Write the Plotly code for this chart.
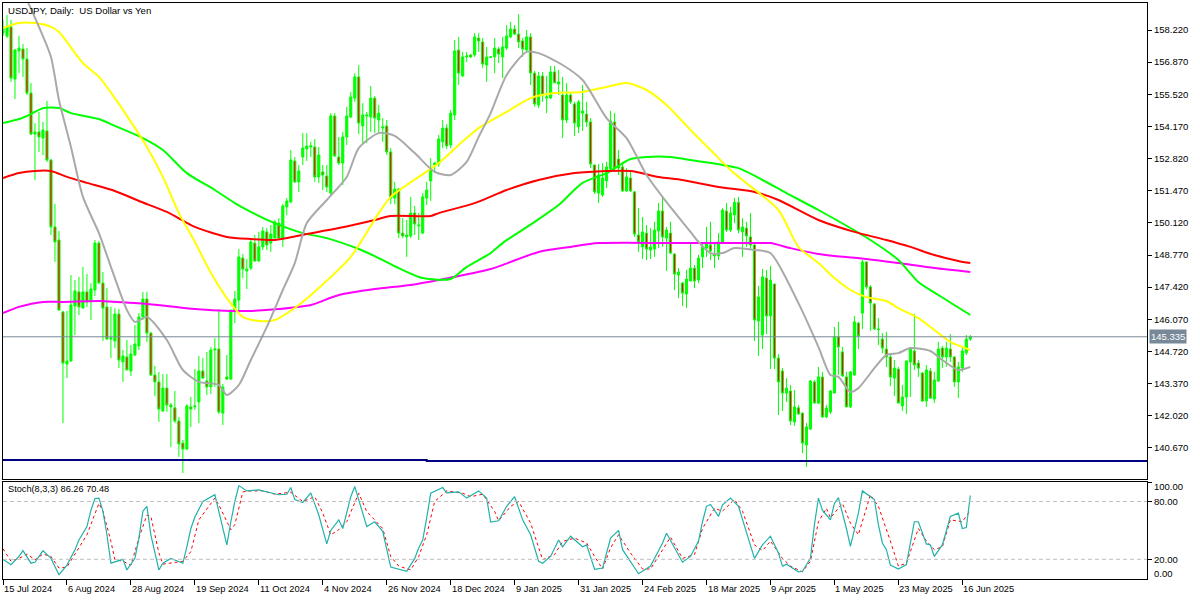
import plotly.graph_objects as go
from plotly.subplots import make_subplots

tick_dates = ["15 Jul 2024", "6 Aug 2024", "28 Aug 2024", "19 Sep 2024", "11 Oct 2024", "4 Nov 2024",
              "26 Nov 2024", "18 Dec 2024", "9 Jan 2025", "31 Jan 2025", "24 Feb 2025", "18 Mar 2025",
              "9 Apr 2025", "1 May 2025", "23 May 2025", "16 Jun 2025"]
tick_bars = [0, 16, 32, 48, 64, 80, 96, 112, 128, 144, 160, 176, 192, 208, 224, 240]

opens = [158.09, 157.97, 158.35, 156.16, 157.34, 157.42, 157.0, 155.57, 153.85, 153.94, 153.68, 153.98, 152.76, 149.95, 149.40, 146.38,
         144.19, 144.32, 146.63, 147.22, 146.54, 147.22, 146.84, 147.30, 149.27, 147.59, 146.59, 145.24, 145.16, 146.29, 144.28, 144.49,
         143.90, 144.57, 144.95, 146.17, 146.92, 145.49, 143.73, 143.44, 142.22, 143.18, 142.47, 142.35, 141.80, 140.87, 140.62, 142.39,
         142.39, 142.60, 143.90, 143.48, 143.23, 144.78, 144.82, 142.13, 143.65, 143.56, 146.42, 146.88, 148.64, 148.10, 148.22, 149.27,
         148.52, 149.11, 149.74, 149.27, 149.48, 150.11, 149.48, 150.79, 151.0, 152.72, 151.84, 152.89, 153.22, 153.31, 153.31, 152.05,
         152.26, 152.09, 151.37, 154.61, 152.89, 152.63, 153.73, 154.57, 155.36, 156.25, 154.19, 154.61, 154.57, 155.36, 154.44, 154.10,
         154.19, 153.10, 151.16, 151.54, 149.69, 149.53, 149.57, 150.53, 149.99, 149.69, 151.16, 151.88, 152.55, 152.59, 153.52, 154.10,
         153.39, 154.65, 157.38, 156.29, 157.09, 157.17, 157.17, 157.88, 157.72, 156.75, 157.07, 157.09, 157.42, 157.09, 157.46, 157.93,
         158.26, 158.05, 157.76, 157.38, 157.93, 156.41, 155.07, 156.29, 155.36, 155.36, 156.46, 155.95, 155.49, 154.44, 155.49, 155.11,
         154.15, 154.73, 154.69, 154.36, 152.55, 151.37, 151.29, 151.88, 152.38, 154.36, 152.80, 152.47, 151.46, 152.0, 151.42, 149.61,
         149.11, 149.69, 148.98, 149.02, 149.78, 150.62, 149.48, 149.69, 148.81, 147.93, 147.59, 147.13, 147.68, 148.22, 147.72, 148.69,
         149.06, 149.19, 148.73, 148.73, 149.32, 150.62, 149.82, 150.45, 150.98, 149.74, 149.90, 149.53, 149.19, 146.0, 145.41, 147.80,
         146.21, 147.55, 144.44, 143.90, 142.97, 143.06, 141.76, 142.35, 142.13, 140.79, 141.46, 143.44, 142.55, 143.65, 141.97, 142.18,
         142.97, 145.33, 144.70, 143.65, 142.39, 143.73, 145.91, 146.33, 148.48, 147.43, 146.71, 145.66, 145.24, 144.82, 144.49, 143.60,
         143.98, 142.43, 142.81, 144.28, 144.74, 144.23, 143.81, 142.64, 143.90, 142.72, 143.48, 144.86, 144.49, 144.82, 144.49, 143.44,
         144.02, 144.66, 145.24]
highs = [158.64, 158.85, 158.64, 157.42, 157.97, 157.63, 157.46, 155.99, 154.31, 154.78, 154.36, 155.24, 152.80, 150.91, 149.78, 146.42,
         146.42, 147.93, 147.72, 147.85, 148.27, 147.97, 147.59, 149.40, 149.36, 148.06, 147.38, 146.59, 146.54, 146.50, 144.78, 145.20,
         144.99, 145.83, 146.33, 147.22, 147.22, 145.54, 144.11, 143.86, 143.77, 143.77, 142.55, 143.06, 141.97, 141.0, 142.51, 142.81,
         143.98, 144.53, 144.44, 144.70, 144.91, 145.28, 146.50, 143.35, 144.57, 146.50, 147.26, 149.02, 148.81, 148.60, 149.40, 149.61,
         149.74, 149.95, 149.90, 150.03, 150.24, 150.32, 150.91, 151.16, 153.18, 152.89, 152.55, 153.89, 153.89, 153.52, 153.64, 153.31,
         152.55, 152.55, 154.73, 154.73, 153.73, 153.94, 154.99, 155.62, 156.41, 156.75, 155.15, 154.78, 155.87, 155.45, 155.07, 154.52,
         154.44, 153.26, 151.84, 151.58, 150.32, 150.24, 151.21, 150.83, 150.53, 151.37, 151.84, 152.84, 152.68, 153.81, 154.44, 154.27,
         154.86, 157.80, 157.93, 157.30, 157.30, 157.21, 158.09, 158.09, 157.88, 157.51, 157.11, 157.88, 157.51, 157.93, 158.43, 158.56,
         158.43, 158.89, 157.88, 158.22, 158.09, 156.50, 156.46, 156.46, 156.29, 156.71, 156.71, 156.54, 156.25, 155.99, 155.62, 155.20,
         155.28, 155.91, 155.20, 154.52, 152.57, 152.59, 152.63, 152.68, 154.82, 154.73, 153.18, 152.68, 152.42, 152.26, 151.46, 150.74,
         150.37, 150.03, 149.90, 150.16, 150.95, 151.21, 149.95, 150.16, 148.85, 148.22, 147.64, 148.14, 149.27, 148.35, 148.77, 149.27,
         149.95, 150.16, 149.27, 149.69, 150.74, 150.95, 150.79, 151.16, 151.21, 150.32, 150.16, 150.53, 149.27, 147.47, 148.18, 148.14,
         148.31, 147.57, 144.61, 144.02, 143.60, 143.31, 143.10, 142.47, 142.15, 141.71, 143.52, 143.52, 144.07, 143.86, 142.47, 143.10,
         145.75, 145.96, 144.91, 143.86, 143.90, 146.21, 145.96, 148.56, 148.50, 147.51, 146.75, 146.12, 145.49, 145.54, 144.57, 144.36,
         144.07, 143.31, 144.34, 144.91, 146.29, 144.36, 143.86, 144.15, 144.02, 143.86, 145.12, 144.95, 145.12, 145.45, 144.51, 144.28,
         144.91, 145.41, 145.41]
lows = [157.97, 157.88, 156.04, 155.32, 156.41, 156.25, 155.49, 153.81, 151.92, 153.10, 152.97, 152.68, 149.61, 148.48, 146.42, 141.71,
        143.60, 144.28, 145.41, 146.25, 146.54, 146.59, 146.04, 147.05, 147.59, 145.16, 145.20, 144.44, 144.86, 144.02, 143.44, 143.94,
        143.69, 144.53, 144.78, 146.04, 145.12, 143.69, 142.85, 141.76, 142.18, 142.18, 140.71, 141.71, 140.29, 139.61, 140.58, 141.55,
        142.26, 141.71, 143.56, 142.89, 142.93, 143.23, 142.09, 141.63, 143.52, 143.52, 145.91, 146.46, 147.80, 147.34, 148.14, 148.48,
        148.48, 148.98, 148.98, 148.90, 149.48, 149.40, 149.11, 150.45, 150.95, 151.79, 151.42, 152.55, 152.72, 152.89, 151.84, 151.79,
        151.50, 151.42, 151.25, 152.89, 152.55, 151.71, 153.39, 154.52, 155.20, 153.85, 153.43, 153.47, 153.94, 153.89, 153.89, 153.52,
        152.97, 150.91, 150.91, 149.48, 149.48, 148.69, 149.48, 149.61, 149.40, 149.65, 150.87, 151.04, 152.21, 152.47, 153.26, 153.22,
        153.26, 154.44, 155.91, 156.25, 156.88, 157.04, 157.09, 157.30, 156.62, 156.04, 157.05, 156.41, 156.83, 156.20, 157.38, 157.88,
        158.01, 157.46, 157.09, 157.30, 155.91, 154.99, 154.94, 155.20, 154.73, 155.32, 156.0, 155.49, 153.68, 154.31, 155.11, 153.77,
        153.89, 153.98, 154.15, 152.42, 151.33, 150.95, 151.21, 151.58, 152.34, 152.34, 152.13, 151.42, 151.42, 151.42, 149.53, 148.90,
        148.60, 148.56, 148.60, 148.69, 149.06, 149.11, 148.10, 148.81, 147.30, 146.96, 146.63, 146.54, 147.68, 147.38, 147.59, 148.22,
        148.69, 148.56, 148.22, 148.56, 149.27, 149.74, 149.74, 150.11, 149.69, 148.69, 149.11, 148.98, 145.16, 144.53, 144.82, 145.45,
        143.98, 143.98, 142.05, 142.22, 142.60, 141.63, 141.59, 142.05, 140.45, 139.87, 141.42, 142.55, 142.51, 141.92, 141.92, 142.09,
        142.97, 143.73, 143.65, 142.39, 142.35, 143.69, 144.82, 145.66, 147.34, 145.58, 145.62, 144.99, 144.65, 144.07, 143.27, 142.85,
        142.55, 142.22, 142.09, 142.81, 143.94, 143.65, 142.60, 142.39, 142.72, 142.55, 143.44, 144.02, 144.07, 144.28, 143.23, 142.76,
        143.86, 144.57, 145.16]
closes = [158.35, 158.35, 156.20, 157.38, 157.46, 157.0, 155.57, 153.85, 153.94, 153.73, 154.02, 152.76, 149.95, 149.32, 146.46, 144.23,
          144.32, 146.67, 147.26, 146.59, 147.22, 146.80, 147.34, 149.27, 147.59, 146.54, 145.24, 145.28, 146.29, 144.36, 144.53, 143.94,
          144.61, 145.03, 146.17, 146.92, 145.49, 143.73, 143.44, 142.30, 143.18, 142.47, 142.39, 141.80, 140.83, 140.62, 142.43, 142.30,
          142.43, 143.90, 143.60, 143.23, 144.78, 144.82, 142.18, 143.23, 143.56, 146.42, 146.92, 148.69, 148.18, 148.18, 149.32, 148.52,
          149.11, 149.78, 149.19, 149.65, 150.16, 149.48, 150.83, 151.04, 152.76, 151.84, 152.30, 153.26, 153.35, 153.35, 152.05, 152.97,
          152.13, 151.63, 154.61, 152.93, 152.63, 153.73, 154.61, 155.41, 156.25, 154.31, 154.65, 154.65, 155.36, 154.52, 154.73, 154.15,
          153.10, 151.16, 151.54, 149.69, 149.57, 149.61, 150.53, 150.07, 150.03, 151.21, 151.50, 152.34, 152.63, 153.64, 154.10, 153.35,
          154.73, 157.34, 156.41, 157.09, 157.13, 157.09, 157.93, 157.76, 156.79, 157.09, 157.09, 157.46, 157.21, 157.51, 157.97, 158.26,
          158.05, 157.72, 157.42, 157.93, 156.41, 155.11, 156.29, 155.49, 155.41, 156.46, 156.0, 156.04, 154.44, 155.49, 155.20, 154.31,
          155.20, 154.82, 154.36, 152.59, 151.42, 152.13, 152.0, 152.47, 154.40, 152.42, 152.42, 151.46, 152.05, 151.46, 149.65, 149.32,
          149.74, 149.02, 149.11, 149.82, 150.62, 149.53, 149.82, 148.85, 147.97, 148.06, 147.17, 147.76, 148.22, 147.68, 148.64, 149.11,
          149.27, 148.94, 148.81, 149.32, 150.66, 149.82, 150.53, 150.98, 149.82, 149.95, 149.57, 149.19, 146.04, 147.01, 147.85, 146.21,
          147.72, 144.44, 143.44, 142.97, 143.18, 141.80, 142.39, 142.09, 140.87, 141.55, 143.48, 142.55, 143.65, 141.97, 142.34, 143.06,
          145.33, 144.91, 143.69, 142.39, 143.86, 145.96, 145.37, 148.48, 147.43, 146.75, 145.66, 145.64, 144.86, 144.49, 143.65, 144.02,
          142.55, 142.81, 144.32, 144.86, 144.15, 144.02, 142.64, 143.94, 142.76, 143.52, 144.82, 144.49, 144.86, 144.49, 143.44, 144.07,
          144.74, 145.24, 145.335]

yellow_bars = [0, 4, 8, 12, 14, 16, 20, 24, 28, 32, 36, 40, 44, 48, 52, 56, 60, 64, 68, 74, 79, 87, 94, 97, 101, 109, 114, 119, 126,
               132, 138, 145, 151, 156, 161, 166, 172, 177, 182, 185, 194, 199, 204, 208, 212, 216, 221, 224, 229, 233, 237, 242]
yellow_ma = [158.30, 158.51, 158.51, 158.35, 158.14, 157.72, 156.83, 156.25, 155.36, 154.36, 153.31, 152.05, 150.53, 149.32, 148.02,
             146.96, 146.17, 146.0, 146.04, 146.67, 147.38, 148.69, 150.53, 151.21, 151.71, 152.63, 153.39, 154.10, 154.78, 155.36,
             155.57, 155.62, 155.83, 155.99, 155.70, 155.07, 154.02, 153.18, 152.34, 151.92, 150.66, 149.11, 148.43, 147.80, 147.30,
             147.0, 146.84, 146.54, 146.12, 145.62, 145.12, 144.78]

green_bars = [0, 4, 7, 10, 14, 17, 24, 28, 35, 40, 46, 53, 58, 62, 68, 75, 81, 89, 94, 99, 105, 112, 116, 122, 125, 133, 139, 145, 151,
              157, 161, 167, 172, 184, 190, 196, 204, 217, 224, 229, 234, 242]
green_ma = [154.31, 154.48, 154.69, 154.94, 154.94, 154.73, 154.48, 154.19, 153.68, 153.18, 152.21, 151.50, 150.95, 150.58, 150.11,
            149.69, 149.48, 149.02, 148.64, 148.22, 147.80, 147.76, 148.27, 148.85, 149.27, 150.16, 150.87, 151.80, 152.21, 152.80,
            152.89, 152.89, 152.76, 152.42, 151.92, 151.37, 150.66, 149.40, 148.56, 147.64, 147.09, 146.25]

red_bars = [0, 4, 8, 12, 16, 21, 28, 34, 41, 48, 56, 62, 68, 76, 84, 93, 97, 107, 109, 118, 126, 134, 143, 151, 157, 164, 170, 179, 188,
            194, 204, 213, 221, 227, 233, 239, 242]
red_ma = [152.0, 152.21, 152.30, 152.30, 152.05, 151.80, 151.46, 151.04, 150.58, 149.95, 149.53, 149.44, 149.40, 149.65, 149.90, 150.24,
          150.41, 150.41, 150.53, 150.95, 151.50, 151.92, 152.21, 152.30, 152.30, 152.05, 151.92, 151.63, 151.42, 151.08, 150.24, 149.74,
          149.40, 149.11, 148.77, 148.52, 148.43]

magenta_bars = [0, 4, 10, 15, 24, 33, 41, 48, 57, 62, 69, 77, 84, 93, 102, 109, 122, 134, 142, 149, 171, 182, 188, 192, 197, 204, 208,
                216, 224, 233, 242]
magenta_ma = [146.33, 146.59, 146.80, 146.80, 146.84, 146.75, 146.63, 146.50, 146.42, 146.42, 146.50, 146.67, 147.09, 147.34, 147.51,
              147.72, 148.18, 148.90, 149.11, 149.27, 149.27, 149.27, 149.27, 149.27, 149.06, 148.81, 148.73, 148.60, 148.43, 148.22, 148.06]

gray_bars = [6, 9, 12, 14, 17, 20, 24, 27, 31, 33, 36, 41, 45, 49, 54, 56, 59, 62, 66, 70, 73, 76, 81, 86, 89, 94, 98, 103, 108, 112, 116,
             119, 122, 126, 131, 134, 140, 145, 151, 156, 161, 166, 172, 174, 177, 180, 183, 188, 192, 199, 204, 207, 209, 212, 214, 218,
             221, 224, 227, 232, 235, 239, 242]
gray_ma = [159.48, 158.35, 157.09, 155.28, 153.31, 151.21, 149.69, 148.27, 146.46, 145.96, 146.17, 145.20, 143.94, 143.44, 143.31, 142.89,
           143.31, 144.36, 145.75, 147.30, 148.43, 150.11, 151.08, 152.05, 153.26, 153.89, 153.77, 153.05, 152.26, 152.13, 152.68, 153.73,
           154.73, 156.33, 157.30, 157.25, 156.75, 156.12, 154.52, 153.68, 152.13, 150.99, 149.74, 149.32, 148.85, 148.85, 149.06, 148.98,
           148.85, 146.75, 144.91, 143.73, 143.65, 143.02, 143.18, 144.02, 144.57, 144.65, 144.86, 144.74, 144.36, 143.94, 144.07]

trend_bars = [0, 106, 106, 287]
trend_line = [140.16, 140.16, 140.12, 140.12]

stoch_bars = [0, 2, 4, 5, 7, 8, 10, 12, 14, 16, 18, 19, 21, 22, 23, 24, 25, 26, 27, 30, 31, 33, 34, 35, 36, 37, 39, 40, 42, 45, 46, 47, 48,
              49, 50, 53, 56, 57, 58, 59, 61, 64, 69, 71, 72, 73, 75, 77, 79, 81, 82, 84, 85, 87, 88, 91, 93, 95, 97, 101, 103, 104, 105,
              106, 107, 110, 111, 114, 116, 119, 121, 122, 124, 126, 128, 130, 132, 134, 135, 137, 139, 140, 142, 145, 146, 148, 150, 152,
              154, 155, 159, 162, 163, 165, 166, 170, 172, 174, 175, 176, 177, 179, 180, 182, 184, 186, 187, 188, 190, 192, 194, 195, 196,
              199, 200, 202, 203, 204, 205, 207, 208, 209, 211, 212, 214, 215, 218, 219, 220, 221, 222, 224, 226, 227, 228, 229, 231, 232,
              233, 235, 237, 239, 240, 241, 242]
stoch_main = [20, 14.5, 23, 29, 16, 17, 29, 21, 4, 14, 30, 40, 54, 71, 83, 83.5, 70, 45.5, 16, 20, 9, 21, 42, 70, 75, 45, 9, 16, 21, 16, 33,
              52, 64, 72, 80, 87, 35, 59, 80, 96.5, 91, 92, 87, 87.5, 94.5, 82, 79, 89, 66, 36, 50, 61, 52, 85, 95.5, 54, 59, 49, 12, 7.6, 21,
              31.7, 40, 63, 88.6, 94.5, 89, 90, 83.5, 91, 83.5, 58.6, 60, 75, 85, 61, 45.5, 18, 16, 23, 40, 33, 44, 33, 35, 9.7, 11, 42, 50,
              30, 5, 13, 21, 37, 47, 17, 23, 39, 59, 75, 77, 64.5, 76.5, 83.5, 75, 47, 33, 21, 35, 44, 26.5, 13, 15, 7, 7.6, 21, 56, 83.5, 71,
              61, 78, 84, 52, 33.5, 68, 91, 82, 56, 37, 30, 14, 10, 14.5, 39, 59, 59, 36, 35, 23, 35, 64.5, 68, 52, 53, 86.26]

signal_bars = [0, 2, 4, 6, 8, 10, 12, 14, 16, 19, 21, 24, 25, 27, 28, 30, 32, 34, 36, 37, 39, 40, 42, 45, 47, 49, 53, 54, 57, 58, 60, 62,
               65, 68, 72, 75, 78, 80, 82, 84, 86, 89, 91, 95, 97, 99, 102, 104, 106, 108, 111, 115, 117, 120, 123, 124, 127, 129, 132, 135,
               138, 140, 143, 146, 148, 150, 152, 154, 157, 160, 162, 165, 167, 170, 173, 175, 178, 180, 183, 185, 188, 190, 192, 195, 197,
               200, 202, 204, 206, 207, 210, 212, 214, 217, 219, 222, 224, 226, 229, 231, 233, 235, 237, 240, 242]
stoch_signal = [31, 18, 21, 25.5, 19.5, 25.5, 23, 11, 12, 33, 45.5, 78, 70, 38.6, 19.6, 18, 14, 42, 66, 64.5, 26.5, 15, 16, 18, 28, 61, 83.5,
                76.5, 50.7, 56, 90, 91, 91, 87.6, 89.6, 80, 85, 68, 45.5, 50.7, 59, 88.6, 69.6, 52, 23, 13, 9, 23, 45.5, 80, 91, 88.6, 85,
                87.6, 69.6, 60, 75, 80, 57.6, 19.6, 25, 38.6, 42, 37, 23, 10, 32, 45.5, 26.5, 10, 10, 30, 43, 21, 25, 52, 73, 70, 82, 70, 35,
                29, 39, 21, 13, 7, 18, 59, 73, 63, 78, 57.6, 45.5, 87, 75, 39, 13, 16, 52, 39, 30, 33, 61, 59, 70.48]

price_ticks = [158.22, 156.87, 155.52, 154.17, 152.82, 151.47, 150.12, 148.77, 147.42, 146.07, 144.72, 143.37, 142.02, 140.67]
stoch_ticks = [100, 80, 20]
stoch_labels = [100, 80, 20, 0]
last_price = 145.335

# stop here if a typed list came out the wrong length
for a, b in [(opens, highs), (opens, lows), (opens, closes), (yellow_bars, yellow_ma), (green_bars, green_ma), (red_bars, red_ma),
             (magenta_bars, magenta_ma), (gray_bars, gray_ma), (stoch_bars, stoch_main), (signal_bars, stoch_signal)]:
    assert len(a) == len(b), (len(a), len(b), a[:3])

bars = list(range(len(opens)))

fig = make_subplots(rows=2, cols=1, shared_xaxes=True, vertical_spacing=0.005, row_heights=[0.83, 0.17])

fig.add_trace(
    go.Candlestick(
        x=bars, open=opens, high=highs, low=lows, close=closes,
        increasing=dict(line=dict(color="#00ff00", width=1), fillcolor="#00ff00"),
        decreasing=dict(line=dict(color="#00ff00", width=1), fillcolor="#ff0000"),
        whiskerwidth=0,
    ),
    row=1, col=1,
)

for x_vals, y_vals, color in [
    (magenta_bars, magenta_ma, "#ff00ff"),
    (green_bars, green_ma, "#00ff00"),
    (red_bars, red_ma, "#ff0000"),
    (yellow_bars, yellow_ma, "#ffff00"),
    (gray_bars, gray_ma, "#a9a9a9"),
]:
    fig.add_trace(go.Scatter(x=x_vals, y=y_vals, mode="lines",
                             line=dict(color=color, width=2, shape="spline", smoothing=0.7)), row=1, col=1)
fig.add_trace(go.Scatter(x=trend_bars, y=trend_line, mode="lines", line=dict(color="#000080", width=2)), row=1, col=1)

fig.add_trace(go.Scatter(x=signal_bars, y=stoch_signal, mode="lines",
                         line=dict(color="#ff0000", width=1, dash="3px,3px")), row=2, col=1)
fig.add_trace(go.Scatter(x=stoch_bars, y=stoch_main, mode="lines",
                         line=dict(color="#20b2aa", width=1.2)), row=2, col=1)

fig.add_hline(y=last_price, line=dict(color="#778899", width=1), row=1, col=1)
for level in [80, 20]:
    fig.add_hline(y=level, line=dict(color="#c0c0c0", width=1, dash="4px,3px"), row=2, col=1)

fig.update_layout(
    width=1200, height=600,
    margin=dict(l=3, r=53, t=3, b=21),
    paper_bgcolor="white", plot_bgcolor="white",
    showlegend=False,
    font=dict(family="Liberation Sans", size=9.5, color="black"),
    boxgap=0.25,
)

frame = dict(showline=True, linecolor="black", linewidth=1, mirror=True, showgrid=False, zeroline=False)

fig.update_xaxes(range=[0, 286.2], rangeslider_visible=False, tickmode="array", tickvals=tick_bars,
                 ticks="outside", ticklen=5, tickcolor="black", showticklabels=False, **frame)
fig.update_yaxes(side="right", ticks="outside", ticklen=4, tickcolor="black", **frame)
fig.update_yaxes(domain=[0.1736, 1], range=[139.362, 159.354], tickmode="array", tickvals=price_ticks,
                 tickformat=".3f", row=1, col=1)
fig.update_yaxes(domain=[0, 0.169], range=[-0.4, 100.6], tickmode="array", tickvals=stoch_ticks,
                 showticklabels=False, row=2, col=1)
fig.update_xaxes(ticks="", row=1, col=1)

for bar, label in zip(tick_bars, tick_dates):
    fig.add_annotation(text=label, x=bar, xref="x2", y=0, yref="paper", xanchor="left", yanchor="top",
                       yshift=-3, xshift=-1, showarrow=False, font=dict(size=9.3))

for level, shift in zip(stoch_labels, [-4, 0, 0, 5]):
    fig.add_annotation(text=f"{level:.2f}", x=1, xref="paper", y=level, yref="y2", xanchor="left", yanchor="middle",
                       xshift=5, yshift=shift, showarrow=False)

fig.add_annotation(text=f"{last_price:.3f}", x=1, xref="paper", y=last_price, yref="y", xanchor="left", yanchor="middle",
                   xshift=2, showarrow=False, bgcolor="#778899", borderpad=1, font=dict(color="white"))
fig.add_annotation(text="USDJPY, Daily:  US Dollar vs Yen", x=0, xref="paper", y=1, yref="paper", xanchor="left", yanchor="top",
                   xshift=3, yshift=0, showarrow=False, font=dict(size=9.6))
fig.add_annotation(text="Stoch(8,3,3) 86.26 70.48", x=0, xref="paper", y=0.169, yref="paper", xanchor="left", yanchor="top",
                   xshift=3, yshift=0, showarrow=False, font=dict(size=9.2))

fig.write_html("out.html", config={"displayModeBar": False}, post_script="document.body.style.margin='0';")
